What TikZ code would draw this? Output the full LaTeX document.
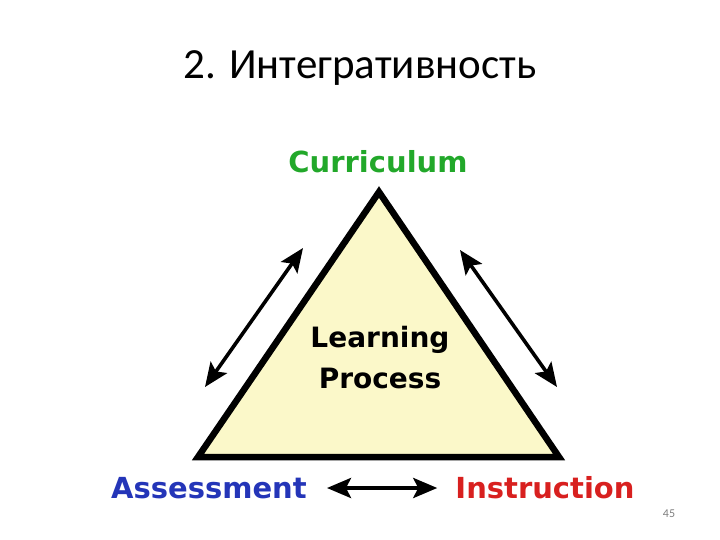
\documentclass[tikz,border=0pt]{standalone}
\usepackage{fontspec}
\setmainfont{Carlito}
\newfontfamily\labelfont{DejaVu Sans}
\usetikzlibrary{arrows.meta}

\definecolor{trifill}{HTML}{FBF8C9}
\definecolor{currgreen}{HTML}{22A82A}
\definecolor{assblue}{HTML}{2435B8}
\definecolor{instrred}{HTML}{D8201F}

\begin{document}
\begin{tikzpicture}[x=1pt,y=-1pt,
    corner/.style={font=\labelfont\bfseries\fontsize{29}{32}\selectfont},
    link/.style={line width=3.6pt, {Stealth[length=24pt,width=20pt,inset=5pt]}-{Stealth[length=24pt,width=20pt,inset=5pt]}}]
    \tikzstyle{every node}+=[inner sep=0pt]
    \useasboundingbox (0,0) rectangle (720,540);
    % title
    \node (title) at (360,68) {\fontsize{43}{48}\selectfont 2. Интегративность};
    % triangle
    \coordinate (top) at (379,192);
    \coordinate (botleft) at (198,457);
    \coordinate (botright) at (559,457);
    \draw [line width=6.5pt, line join=miter, fill=trifill] (top) -- (botleft) -- (botright) -- cycle;
    \node (learn) at (380,358) [align=center, font=\labelfont\bfseries\fontsize{28}{41}\selectfont] {Learning\\Process};
    % corners
    \node (curr) at (378,162) [corner, text=currgreen] {Curriculum};
    \node (assess) at (209,488) [corner, text=assblue] {Assessment};
    \node (instr) at (545,488) [corner, text=instrred] {Instruction};
    % arrows
    \coordinate (la) at (205,387);
    \coordinate (lb) at (303,248);
    \coordinate (ra) at (460,250);
    \coordinate (rb) at (557,387);
    \draw [link] (la) -- (lb);
    \draw [link] (ra) -- (rb);
    \draw [link, line width=4pt, shorten <=20pt, shorten >=18pt] (assess) -- (instr);
    % page number
    \node (page) at (669,514) [text=gray, font=\fontsize{12}{14}\selectfont] {45};
\end{tikzpicture}
\end{document}
